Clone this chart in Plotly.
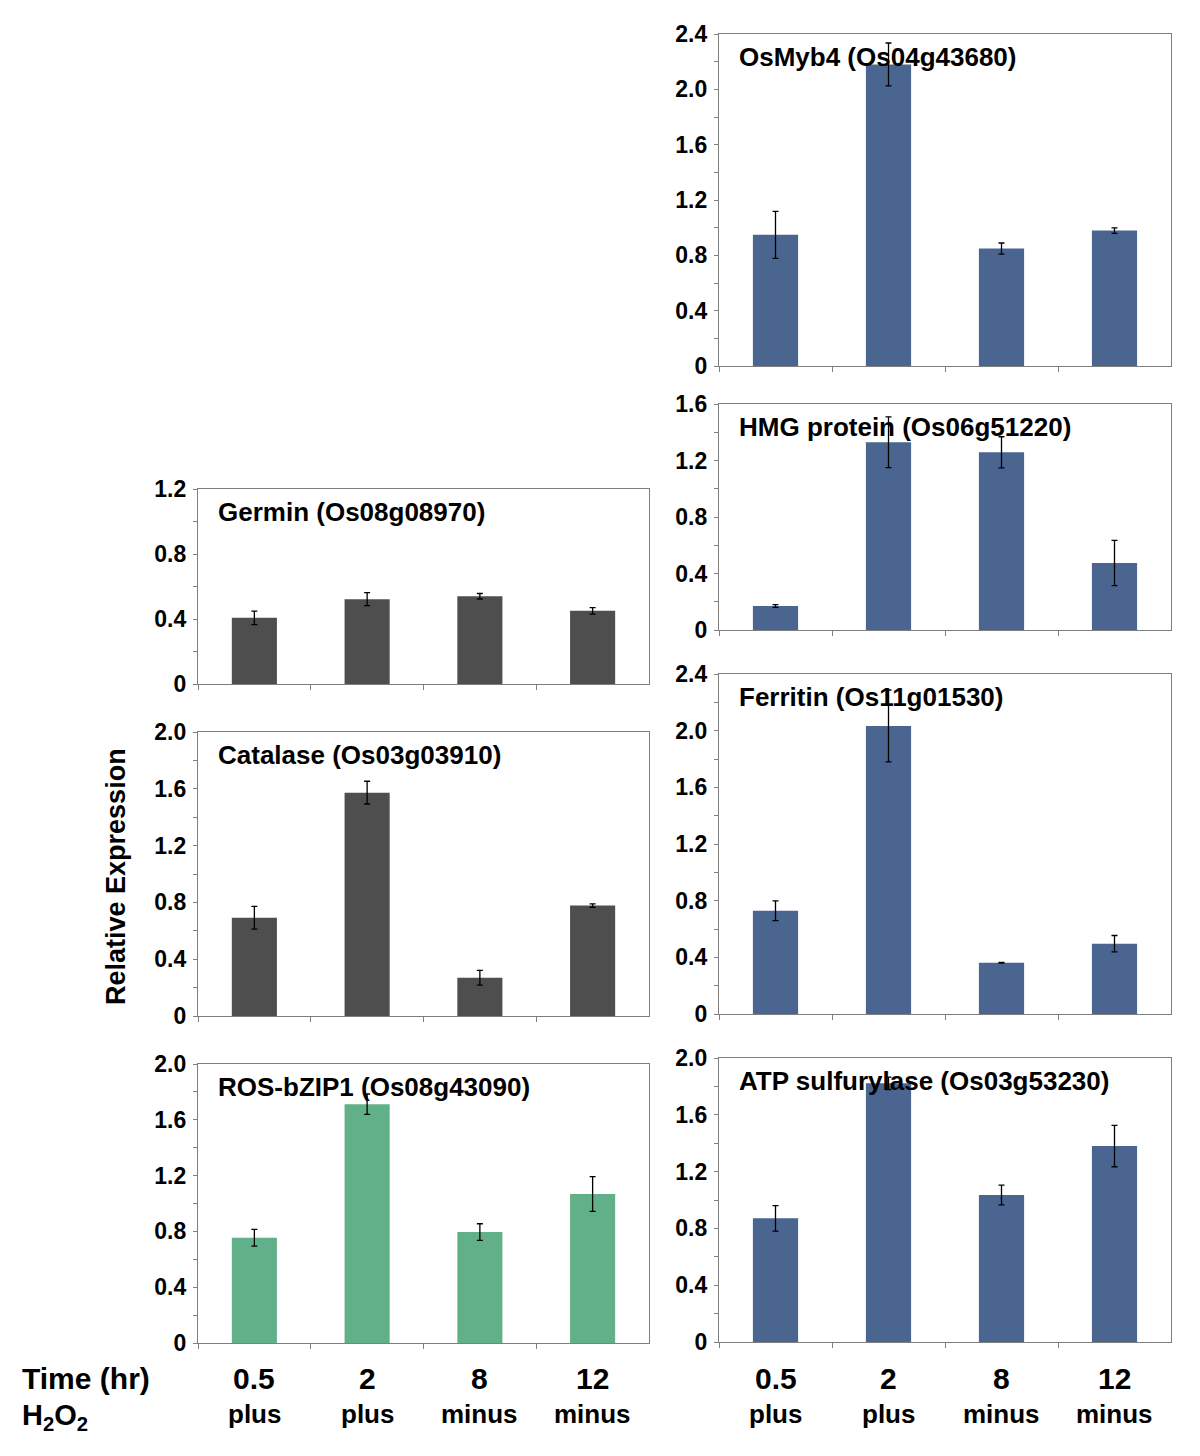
import plotly.graph_objects as go

# ---------------- data ----------------
categories = ["0.5", "2", "8", "12"]
treatment = ["plus", "plus", "minus", "minus"]

germin_vals = [0.407, 0.522, 0.540, 0.450]
germin_err = [0.042, 0.040, 0.017, 0.020]

catalase_vals = [0.692, 1.573, 0.270, 0.778]
catalase_err = [0.080, 0.080, 0.052, 0.012]

rosbzip_vals = [0.755, 1.712, 0.795, 1.068]
rosbzip_err = [0.060, 0.073, 0.060, 0.124]

osmyb4_vals = [0.948, 2.180, 0.849, 0.979]
osmyb4_err = [0.170, 0.155, 0.040, 0.020]

hmg_vals = [0.170, 1.329, 1.258, 0.474]
hmg_err = [0.010, 0.180, 0.110, 0.160]

ferritin_vals = [0.729, 2.033, 0.362, 0.496]
ferritin_err = [0.070, 0.254, 0.003, 0.058]

atp_vals = [0.871, 1.822, 1.035, 1.380]
atp_err = [0.090, 0.044, 0.070, 0.146]

ticks_12 = [0, 0.4, 0.8, 1.2]
ticks_12_text = ["0", "0.4", "0.8", "1.2"]
ticks_16 = [0, 0.4, 0.8, 1.2, 1.6]
ticks_16_text = ["0", "0.4", "0.8", "1.2", "1.6"]
ticks_20 = [0, 0.4, 0.8, 1.2, 1.6, 2.0]
ticks_20_text = ["0", "0.4", "0.8", "1.2", "1.6", "2.0"]
ticks_24 = [0, 0.4, 0.8, 1.2, 1.6, 2.0, 2.4]
ticks_24_text = ["0", "0.4", "0.8", "1.2", "1.6", "2.0", "2.4"]

GRAY = "#4e4e4e"
BLUE = "#4a6690"
GREEN = "#62b08a"

# page has an 8px body margin; size the figure so it fits the 1200x1456 window
OFF = 8
W, H = 1200 - 2 * OFF, 1456 - 2 * OFF


def px(xpix):
    return (xpix - OFF) / W


def py(ypix):
    return 1 - (ypix - OFF) / H


def ydom(top, bottom):
    return [py(bottom), py(top)]


LX = [px(198), px(649)]
RX = [px(719), px(1171)]

panels = [
    # name, values, errors, color, xdomain, ydomain, ymax, tickvals, ticktext
    ("Germin (Os08g08970)", germin_vals, germin_err, GRAY, LX, ydom(489, 684), 1.2, ticks_12, ticks_12_text),
    ("Catalase (Os03g03910)", catalase_vals, catalase_err, GRAY, LX, ydom(732, 1016), 2.0, ticks_20, ticks_20_text),
    ("ROS-bZIP1 (Os08g43090)", rosbzip_vals, rosbzip_err, GREEN, LX, ydom(1064, 1343), 2.0, ticks_20, ticks_20_text),
    ("OsMyb4 (Os04g43680)", osmyb4_vals, osmyb4_err, BLUE, RX, ydom(34, 366), 2.4, ticks_24, ticks_24_text),
    ("HMG protein (Os06g51220)", hmg_vals, hmg_err, BLUE, RX, ydom(404, 630), 1.6, ticks_16, ticks_16_text),
    ("Ferritin (Os11g01530)", ferritin_vals, ferritin_err, BLUE, RX, ydom(674, 1014), 2.4, ticks_24, ticks_24_text),
    ("ATP sulfurylase (Os03g53230)", atp_vals, atp_err, BLUE, RX, ydom(1058, 1342), 2.0, ticks_20, ticks_20_text),
]

fig = go.Figure()
layout = {}
annotations = []
FONT = "Liberation Sans, Arial, sans-serif"
TICKFONT = dict(family=FONT, size=23, color="black", weight="bold")

for i, (name, vals, errs, col, xd, yd, ymax, tv, tt) in enumerate(panels):
    n = i + 1
    xa = "x" if n == 1 else f"x{n}"
    ya = "y" if n == 1 else f"y{n}"
    fig.add_trace(go.Bar(
        x=categories, y=vals, xaxis=xa, yaxis=ya,
        marker=dict(color=col, line=dict(width=0)),
        error_y=dict(type="data", array=errs, visible=True, color="black", thickness=1.3, width=3),
        showlegend=False,
    ))
    xkey = "xaxis" if n == 1 else f"xaxis{n}"
    ykey = "yaxis" if n == 1 else f"yaxis{n}"
    layout[xkey] = dict(
        domain=xd, anchor=ya, type="category", showticklabels=False,
        ticks="outside", ticklen=5, tickcolor="#7f7f7f", tickson="boundaries",
        showline=True, linecolor="#7f7f7f", linewidth=1.3, mirror=True,
        showgrid=False, zeroline=False, fixedrange=True, automargin=False,
    )
    layout[ykey] = dict(
        domain=yd, anchor=xa, range=[0, ymax], tickvals=tv, ticktext=tt,
        tickfont=TICKFONT, ticks="", ticklabelstandoff=6,
        minor=dict(dtick=0.2, ticks="outside", ticklen=4, tickcolor="#7f7f7f", showgrid=False),
        showline=True, linecolor="#7f7f7f", linewidth=1.3, mirror=True,
        showgrid=False, zeroline=False, fixedrange=True, automargin=False,
    )
    annotations.append(dict(
        text=f"<b>{name}</b>", xref=f"{xa} domain", yref=f"{ya} domain",
        x=0.04, y=1, xanchor="left", yanchor="top", yshift=-6, showarrow=False,
        font=dict(family=FONT, size=26, color="black"),
    ))

# bottom category labels (Time and H2O2 rows) under both bottom panels
for xa in ["x3", "x7"]:
    for j, (c, t) in enumerate(zip(categories, treatment)):
        annotations.append(dict(
            text=f"<b>{c}</b>", xref=xa, yref="paper", x=j, y=py(1378),
            xanchor="center", yanchor="middle", showarrow=False,
            font=dict(family=FONT, size=30, color="black"),
        ))
        annotations.append(dict(
            text=f"<b>{t}</b>", xref=xa, yref="paper", x=j, y=py(1414),
            xanchor="center", yanchor="middle", showarrow=False,
            font=dict(family=FONT, size=26, color="black"),
        ))

annotations.append(dict(
    text="<b>Time (hr)</b>", xref="paper", yref="paper", x=px(20), y=py(1378),
    xanchor="left", yanchor="middle", showarrow=False,
    font=dict(family=FONT, size=30, color="black"),
))
annotations.append(dict(
    text="<b>H<sub>2</sub>O<sub>2</sub></b>", xref="paper", yref="paper", x=px(20), y=py(1397),
    xanchor="left", yanchor="top", showarrow=False,
    font=dict(family=FONT, size=29, color="black"),
))
annotations.append(dict(
    text="<b>Relative Expression</b>", xref="paper", yref="paper", x=px(116), y=py(877),
    xanchor="center", yanchor="middle", textangle=-90, showarrow=False,
    font=dict(family=FONT, size=27, color="black"),
))

fig.update_layout(
    width=W, height=H,
    margin=dict(l=0, r=0, t=0, b=0, autoexpand=False),
    paper_bgcolor="white", plot_bgcolor="white",
    bargap=0.6, showlegend=False,
    annotations=annotations,
    **layout,
)

fig.write_html("out.html")
